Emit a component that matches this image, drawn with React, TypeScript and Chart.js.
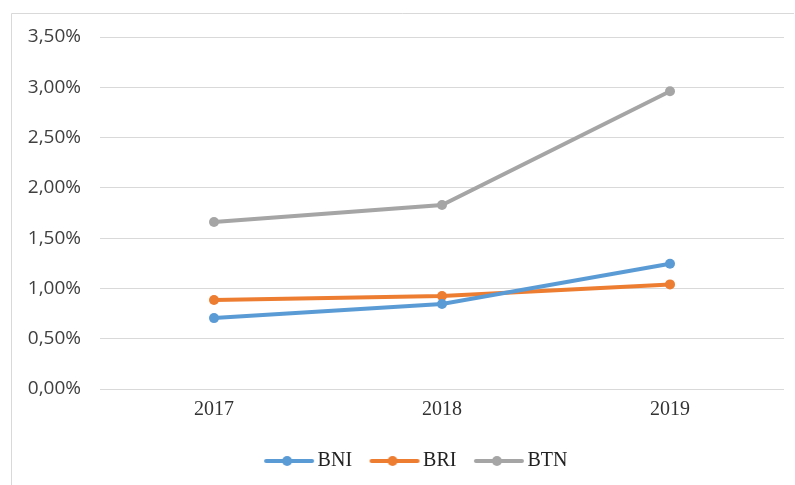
import React, { useEffect, useRef } from "react";
import { Chart, registerables } from "chart.js";

Chart.register(...registerables);

const categories = ["2017", "2018", "2019"];
const bni = [0.00705, 0.00845, 0.01245];
const bri = [0.00885, 0.00925, 0.0104];
const btn = [0.0166, 0.0183, 0.0296];
const seriesNames = ["BNI", "BRI", "BTN"];
const seriesColors = ["#5B9BD5", "#ED7D31", "#A5A5A5"];

function makeMarker(color: string) {
  const c = document.createElement("canvas");
  c.width = 52;
  c.height = 14;
  const ctx = c.getContext("2d")!;
  ctx.strokeStyle = color;
  ctx.lineWidth = 4;
  ctx.lineCap = "round";
  ctx.beginPath();
  ctx.moveTo(3, 7);
  ctx.lineTo(49, 7);
  ctx.stroke();
  ctx.fillStyle = color;
  ctx.beginPath();
  ctx.arc(24, 7, 5, 0, Math.PI * 2);
  ctx.fill();
  return c;
}

const borderPlugin = {
  id: "outerBorder",
  beforeDraw(chart: any) {
    const ctx = chart.ctx;
    ctx.save();
    ctx.fillStyle = "#ffffff";
    ctx.fillRect(0, 0, chart.width, chart.height);
    ctx.strokeStyle = "#d9d9d9";
    ctx.lineWidth = 1;
    ctx.beginPath();
    ctx.moveTo(11.5, chart.height);
    ctx.lineTo(11.5, 13.5);
    ctx.lineTo(chart.width - 1, 13.5);
    ctx.stroke();
    ctx.restore();
  },
};

const legendShiftPlugin = {
  id: "legendShift",
  afterLayout(chart: any) {
    if (chart.legend) {
      chart.legend.left += 27;
      chart.legend.right += 27;
    }
  },
};

export default function App() {
  const ref = useRef<HTMLCanvasElement>(null);
  useEffect(() => {
    const data = [bni, bri, btn];
    const markers = seriesColors.map(makeMarker);
    const chart = new Chart(ref.current!, {
      type: "line",
      data: {
        labels: categories,
        datasets: seriesNames.map((name, i) => ({
          label: name,
          data: data[i],
          borderColor: seriesColors[i],
          backgroundColor: seriesColors[i],
          borderWidth: 4,
          pointRadius: 5,
          pointStyle: "circle",
          pointBackgroundColor: seriesColors[i],
          pointBorderWidth: 0,
          tension: 0,
        })),
      },
      options: {
        responsive: false,
        animation: false,
        layout: { padding: { top: 37, right: 11, left: 0, bottom: 4 } },
        plugins: {
          tooltip: { enabled: false },
          legend: {
            position: "bottom",
            labels: {
              usePointStyle: true,
              pointStyleWidth: 37,
              padding: 24,
              color: "#222222",
              font: { family: "'Liberation Serif', 'Times New Roman', serif", size: 20 },
              generateLabels: () =>
                seriesNames.map((name, i) => ({
                  text: name,
                  pointStyle: markers[i],
                  fillStyle: seriesColors[i],
                  strokeStyle: seriesColors[i],
                  lineWidth: 0,
                  hidden: false,
                  datasetIndex: i,
                  fontColor: "#222222",
                })) as any,
            },
          },
        },
        scales: {
          x: {
            offset: true,
            grid: { display: false, drawTicks: false },
            border: { display: false },
            ticks: {
              padding: 9,
              color: "#333333",
              font: { family: "'Liberation Serif', 'Times New Roman', serif", size: 20 },
            },
            afterFit: (s: any) => {
              s.height = 38;
            },
          },
          y: {
            min: 0,
            max: 0.035,
            grid: { color: "#d9d9d9", lineWidth: 1, drawTicks: false },
            border: { display: false },
            ticks: {
              stepSize: 0.005,
              padding: 19,
              color: "#404040",
              font: { family: "'Open Sans', sans-serif", size: 19 },
              callback: (v: any) => (Number(v) * 100).toFixed(2).replace(".", ",") + "%",
            },
            afterFit: (s: any) => {
              s.width = 100;
            },
          },
        },
      },
      plugins: [borderPlugin, legendShiftPlugin],
    });
    return () => chart.destroy();
  }, []);
  return (
    <div style={{ position: "fixed", left: 0, top: 0, width: 795, height: 485 }}>
      <canvas ref={ref} width={795} height={485} style={{ width: 795, height: 485 }} />
    </div>
  );
}
